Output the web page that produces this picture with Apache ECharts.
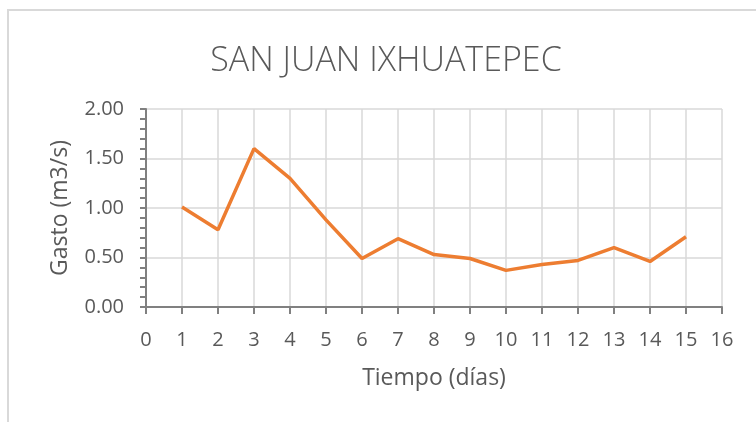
<!DOCTYPE html>
<html>
<head>
<meta charset="utf-8">
<script src="https://cdn.jsdelivr.net/npm/echarts@6/dist/echarts.min.js"></script>
<style>
  html, body { margin: 0; padding: 0; background: #fff; }
  #chart { width: 756px; height: 422px; }
</style>
</head>
<body>
<div id="chart"></div>
<script>
// data
const titleText = "SAN JUAN IXHUATEPEC";
const xName = "Tiempo (días)";
const yName = "Gasto (m3/s)";
const days = [1, 2, 3, 4, 5, 6, 7, 8, 9, 10, 11, 12, 13, 14, 15];
const flow = [1.01, 0.78, 1.6, 1.3, 0.88, 0.49, 0.69, 0.53, 0.49, 0.37, 0.43, 0.47, 0.6, 0.46, 0.71];

const lineColor = "#ED7D31";
const textColor = "#595959";
const gridColor = "#d9d9d9";
const axisColor = "#808080";
const font = "Open Sans, sans-serif";

const chart = echarts.init(document.getElementById("chart"));

chart.setOption({
  backgroundColor: "#fff",
  animation: false,
  graphic: [
    {
      type: "rect",
      shape: { x: 8, y: 10, width: 800, height: 500 },
      style: { fill: "none", stroke: "#d9d9d9", lineWidth: 2 },
      silent: true,
    },
  ],
  title: {
    text: titleText,
    left: 381,
    top: 39,
    textAlign: "center",
    textStyle: {
      color: textColor,
      fontFamily: font,
      fontWeight: 300,
      fontSize: 34,
    },
  },
  grid: {
    left: 146,
    right: 34,
    top: 109,
    bottom: 115,
  },
  xAxis: {
    type: "value",
    min: 0,
    max: 16,
    interval: 1,
    name: xName,
    nameLocation: "middle",
    nameGap: 60,
    nameTextStyle: { color: textColor, fontFamily: font, fontSize: 23 },
    axisLine: { show: true, onZero: false, lineStyle: { color: axisColor, width: 2 } },
    axisTick: { show: true, length: 7, lineStyle: { color: axisColor, width: 2 } },
    axisLabel: { color: textColor, fontFamily: font, fontSize: 20, margin: 23 },
    splitLine: { show: true, lineStyle: { color: gridColor, width: 1.5 } },
  },
  yAxis: {
    type: "value",
    min: 0,
    max: 2,
    interval: 0.5,
    name: yName,
    nameLocation: "middle",
    nameGap: 74,
    nameTextStyle: { color: textColor, fontFamily: font, fontSize: 23 },
    axisLine: { show: true, lineStyle: { color: axisColor, width: 2 } },
    axisTick: { show: true, length: 6, lineStyle: { color: axisColor, width: 2 } },
    minorTick: { show: true, splitNumber: 5, length: 6, lineStyle: { color: axisColor, width: 2 } },
    axisLabel: {
      color: textColor,
      fontFamily: font,
      fontSize: 20,
      margin: 22,
      formatter: (v) => v.toFixed(2),
    },
    splitLine: { show: true, lineStyle: { color: gridColor, width: 1.5 } },
  },
  series: [
    {
      type: "line",
      data: days.map((d, i) => [d, flow[i]]),
      showSymbol: false,
      symbol: "none",
      lineStyle: { color: lineColor, width: 3.5 },
    },
  ],
});
</script>
</body>
</html>
